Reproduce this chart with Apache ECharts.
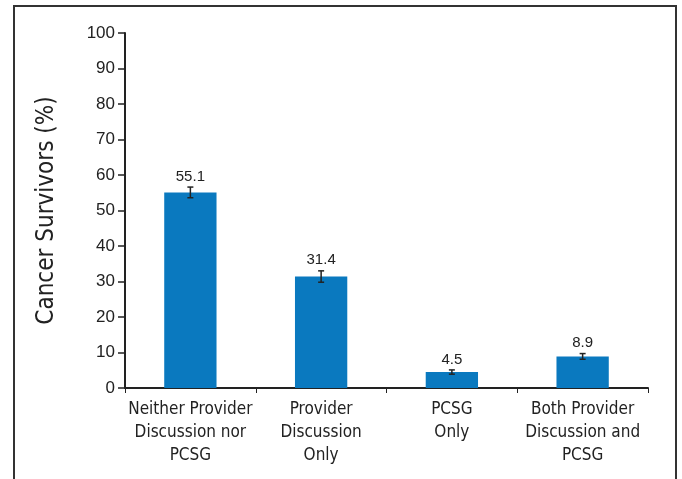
<!DOCTYPE html>
<html>
<head>
<meta charset="utf-8">
<script src="https://cdn.jsdelivr.net/npm/echarts@6/dist/echarts.min.js"></script>
<style>
  html, body { margin: 0; padding: 0; background: #fff; }
  #main { width: 682px; height: 479px; }
</style>
</head>
<body>
<div id="main"></div>
<script>
const categories = [
  'Neither Provider\nDiscussion nor\nPCSG',
  'Provider\nDiscussion\nOnly',
  'PCSG\nOnly',
  'Both Provider\nDiscussion and\nPCSG'
];
const values = [55.1, 31.4, 4.5, 8.9];
const lower = [53.6, 29.8, 3.9, 8.1];
const upper = [56.6, 33.0, 5.1, 9.7];

const chart = echarts.init(document.getElementById('main'), null, { renderer: 'canvas' });

const errData = values.map((v, i) => [i, lower[i], upper[i], v]);
const condensed = '"DejaVu Sans Condensed", "Liberation Sans Narrow", sans-serif';

const option = {
  backgroundColor: '#ffffff',
  animation: false,
  graphic: [
    {
      type: 'rect',
      shape: { x: 14, y: 6, width: 662, height: 520 },
      style: { fill: 'none', stroke: '#333', lineWidth: 2 },
      silent: true
    }
  ],
  grid: { left: 125, right: 34, top: 33, bottom: 91 },
  xAxis: {
    type: 'category',
    data: categories,
    axisLine: { lineStyle: { color: '#222', width: 2 } },
    axisTick: { show: true, length: 5, lineStyle: { color: '#222', width: 1 } },
    axisLabel: {
      color: '#222',
      fontFamily: condensed,
      fontSize: 17,
      lineHeight: 23,
      margin: 10,
      interval: 0
    }
  },
  yAxis: {
    type: 'value',
    min: 0,
    max: 100,
    interval: 10,
    name: 'Cancer Survivors (%)',
    nameLocation: 'middle',
    nameGap: 66,
    nameTextStyle: {
      color: '#222',
      fontFamily: condensed,
      fontSize: 24
    },
    splitLine: { show: false },
    axisLine: { show: true, lineStyle: { color: '#222', width: 2 } },
    axisTick: { show: true, length: 7, lineStyle: { color: '#222', width: 1.5 } },
    axisLabel: {
      color: '#222',
      fontFamily: 'Liberation Sans, Arial, sans-serif',
      fontSize: 17,
      margin: 10
    }
  },
  series: [
    {
      type: 'bar',
      data: values,
      barWidth: '40%',
      itemStyle: { color: '#0a79bf' }
    },
    {
      type: 'custom',
      data: errData,
      z: 10,
      renderItem: function (params, api) {
        const x = api.value(0);
        const lo = api.coord([x, api.value(1)]);
        const hi = api.coord([x, api.value(2)]);
        const w = 3;
        const style = { stroke: '#222', lineWidth: 1.5 };
        return {
          type: 'group',
          children: [
            { type: 'line', shape: { x1: hi[0], y1: hi[1], x2: lo[0], y2: lo[1] }, style: style },
            { type: 'line', shape: { x1: hi[0] - w, y1: hi[1], x2: hi[0] + w, y2: hi[1] }, style: style },
            { type: 'line', shape: { x1: lo[0] - w, y1: lo[1], x2: lo[0] + w, y2: lo[1] }, style: style },
            {
              type: 'text',
              style: {
                x: hi[0],
                y: hi[1] - 3,
                text: String(api.value(3)),
                align: 'center',
                verticalAlign: 'bottom',
                fill: '#222',
                font: '15px "Liberation Sans", Arial, sans-serif'
              }
            }
          ]
        };
      }
    }
  ]
};

chart.setOption(option);
</script>
</body>
</html>
